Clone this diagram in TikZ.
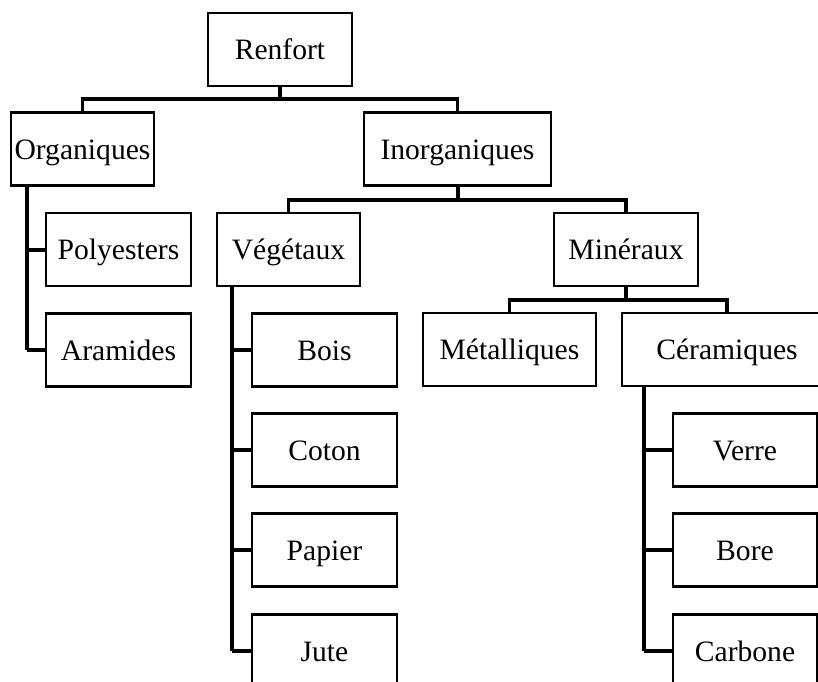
\documentclass[tikz,border=0pt]{standalone}
\usepackage{fontspec}
\setmainfont{Liberation Serif}
\begin{document}
\begin{tikzpicture}[x=0.75pt,y=-0.75pt,
  box/.style={draw, line width=1.8pt, inner sep=0pt, minimum height=54.5pt,
    font=\fontsize{22.2}{26}\selectfont, text height=19.8pt, text depth=4.6pt},
  conn/.style={line width=2.4pt},
  stub/.style={line width=3pt}]
\useasboundingbox (0,0) rectangle (818,682);
\clip (0,0) rectangle (818,682);
% nodes
\node[box, minimum width=108pt] (ren) at (280,49.5) {Renfort};
\node[box, minimum width=107pt] (org) at (82.5,149) {Organiques};
\node[box, minimum width=140pt] (inorg) at (457.5,149) {Inorganiques};
\node[box, minimum width=109pt] (poly) at (118.5,249.5) {Polyesters};
\node[box, minimum width=109pt] (ara) at (118.5,350) {Aramides};
\node[box, minimum width=107pt] (veg) at (288.5,249.5) {Végétaux};
\node[box, minimum width=108pt] (min) at (626,249.5) {Minéraux};
\node[box, minimum width=109pt] (bois) at (324.5,350) {Bois};
\node[box, minimum width=130pt] (met) at (509.5,349.5) {Métalliques};
\node[box, minimum width=157.5pt] (cer) at (727,349.5) {Céramiques};
\node[box, minimum width=109pt] (coton) at (324.5,450) {Coton};
\node[box, minimum width=109pt] (pap) at (324.5,550) {Papier};
\node[box, minimum width=109pt] (jute) at (324.5,651) {Jute};
\node[box, minimum width=108pt] (verre) at (745,450) {Verre};
\node[box, minimum width=108pt] (bore) at (745,550) {Bore};
\node[box, minimum width=108pt] (carb) at (745,651) {Carbone};
% junctions
\coordinate (j1) at (280,99);
\coordinate (j2) at (457.5,200);
\coordinate (j3) at (626,300);
\coordinate (t1) at (27,0);
\coordinate (t2) at (232,0);
\coordinate (t3) at (644,0);
% connectors
\draw[stub] (ren.south) -- (j1);
\draw[conn] (org.north) |- (j1) -| (inorg.north);
\draw[stub] (inorg.south) -- (j2);
\draw[conn] (veg.north) |- (j2) -| (min.north);
\draw[stub] (min.south) -- (j3);
\draw[conn] (met.north) |- (j3) -| (cer.north);
\draw[stub] (t1 |- org.south) -- (t1 |- ara.west);
\draw[conn] (t1 |- ara.west) -- (ara.west);
\draw[stub] (t1 |- poly.west) -- (poly.west);
\draw[stub] (t2 |- veg.south) -- (t2 |- jute.west);
\draw[conn] (t2 |- jute.west) -- (jute.west);
\draw[stub] (t2 |- bois.west) -- (bois.west);
\draw[conn] (t2 |- coton.west) -- (coton.west);
\draw[conn] (t2 |- pap.west) -- (pap.west);
\draw[stub] (t3 |- cer.south) -- (t3 |- carb.west);
\draw[conn] (t3 |- carb.west) -- (carb.west);
\draw[stub] (t3 |- verre.west) -- (verre.west);
\draw[conn] (t3 |- bore.west) -- (bore.west);
\end{tikzpicture}
\end{document}
